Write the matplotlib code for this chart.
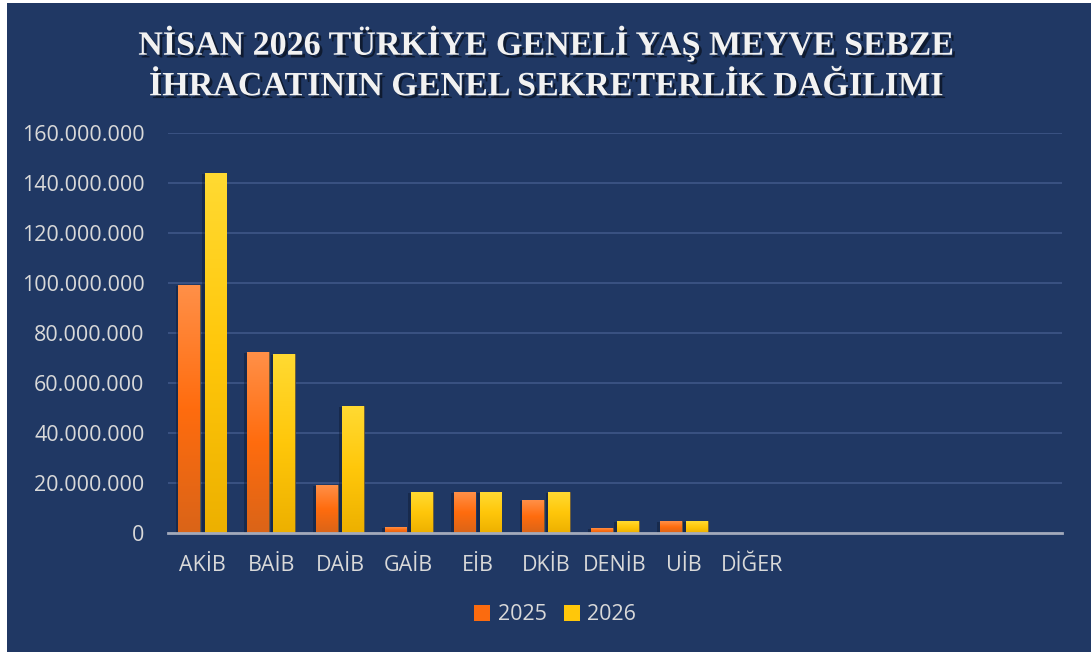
import numpy as np
import matplotlib
matplotlib.use("Agg")
import matplotlib.pyplot as plt
from matplotlib.colors import LinearSegmentedColormap
from matplotlib.patches import Patch, Rectangle
import matplotlib.patheffects as pe

# ---------------------------------------------------------------------------
# Data
# ---------------------------------------------------------------------------
categories = ["AKİB", "BAİB", "DAİB", "GAİB", "EİB", "DKİB", "DENİB", "UİB",
              "DİĞER", "", "", "", ""]
exp_2025 = [99_200_000, 72_400_000, 19_200_000, 2_400_000, 16_400_000,
            13_200_000, 2_000_000, 4_800_000, 0, 0, 0, 0, 0]
exp_2026 = [144_000_000, 71_600_000, 50_800_000, 16_400_000, 16_400_000,
            16_400_000, 4_800_000, 4_800_000, 0, 0, 0, 0, 0]
series_names = ["2025", "2026"]
y_ticks = [0, 20_000_000, 40_000_000, 60_000_000, 80_000_000, 100_000_000,
           120_000_000, 140_000_000, 160_000_000]

title = "NİSAN 2026 TÜRKİYE GENELİ YAŞ MEYVE SEBZE\nİHRACATININ GENEL SEKRETERLİK DAĞILIMI"

# ---------------------------------------------------------------------------
# Style
# ---------------------------------------------------------------------------
NAVY = "#203864"
TEXT = "#D9D9D9"
GRID = "#3A5282"
ORANGE = LinearSegmentedColormap.from_list(
    "orange", ["#DA6418", "#FF6C0E", "#FF9048"])
YELLOW = LinearSegmentedColormap.from_list(
    "yellow", ["#EDB000", "#FFC70A", "#FFDA32"])
FONT = ["Open Sans", "DejaVu Sans"]

W, H = 1091, 652
fig = plt.figure(figsize=(W / 100, H / 100), dpi=100, facecolor="white")
# navy card, with a small white margin on the left/top like the source
fig.patches.append(Rectangle((7 / W, 0), 1 - 7 / W, 1 - 3 / H,
                             transform=fig.transFigure, facecolor=NAVY,
                             edgecolor="none", zorder=-10))

ax = fig.add_axes([168 / W, 119 / H, 894 / W, 400 / H])
ax.set_facecolor("none")

x = np.arange(len(categories))
bw = 0.315
off = 0.19
grad = np.linspace(0, 1, 256).reshape(-1, 1)

for vals, dx, cmap in ((exp_2025, -off, ORANGE), (exp_2026, off, YELLOW)):
    bars = ax.bar(x + dx, vals, width=bw, color=cmap(0.5),
                  edgecolor="#6b5a3a", linewidth=0.6, zorder=2)
    for b in bars:
        h = b.get_height()
        if h <= 0:
            continue
        b.set_path_effects([pe.SimplePatchShadow(offset=(-2, -1),
                                                 shadow_rgbFace="#0d1a33",
                                                 alpha=0.45), pe.Normal()])
        ax.imshow(grad, extent=[b.get_x(), b.get_x() + b.get_width(), 0, h],
                  origin="lower", aspect="auto", cmap=cmap, zorder=3,
                  interpolation="bicubic")

ax.set_xlim(-0.5, len(categories) - 0.5)
ax.set_ylim(0, 160_000_000)
ax.set_yticks(y_ticks)
ax.set_yticklabels([f"{v:,}".replace(",", ".") for v in y_ticks])
ax.set_xticks(x)
ax.set_xticklabels(categories)
ax.tick_params(axis="both", length=0, colors=TEXT, labelsize=15.5)
ax.tick_params(axis="x", pad=16)
ax.tick_params(axis="y", pad=17)
for lab in ax.get_xticklabels() + ax.get_yticklabels():
    lab.set_family(FONT)

ax.grid(axis="y", color=GRID, linewidth=1.4, zorder=0)
ax.set_axisbelow(True)
for side in ("top", "right", "left"):
    ax.spines[side].set_visible(False)
ax.spines["bottom"].set_color("#A3AABB")
ax.spines["bottom"].set_linewidth(2)
ax.spines["bottom"].set_zorder(4)

# title with soft drop shadow
fig.text(546 / W, 1 - 64 / H, title, ha="center", va="center",
         color="#F2F2F2", fontsize=24.5, fontweight="bold",
         family=["Liberation Serif", "DejaVu Serif"], linespacing=1.4,
         path_effects=[pe.withSimplePatchShadow(offset=(2, -2),
                                                shadow_rgbFace="black",
                                                alpha=0.5)])

handles = [Patch(facecolor=ORANGE(0.45), edgecolor="none"),
           Patch(facecolor=YELLOW(0.5), edgecolor="none")]
fig.legend(handles, series_names, loc="center",
           bbox_to_anchor=(555 / W, 37 / H), ncol=2, frameon=False,
           handlelength=0.75, handleheight=0.75, handletextpad=0.35,
           columnspacing=0.8, prop={"family": FONT, "size": 15.5},
           labelcolor=TEXT)

fig.savefig("out.png", dpi=100, facecolor=fig.get_facecolor())
